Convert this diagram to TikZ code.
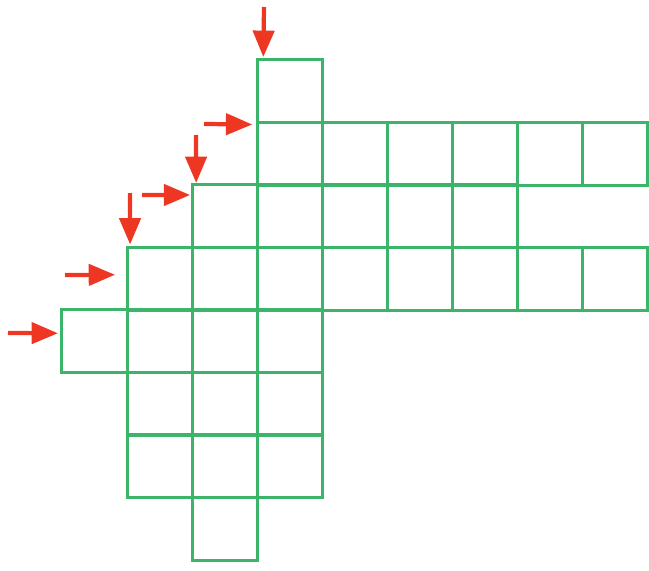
\documentclass[tikz,border=0pt]{standalone}
\usetikzlibrary{arrows.meta}
\definecolor{gridgreen}{RGB}{60,180,105}
\definecolor{arrowred}{RGB}{238,55,35}
\begin{document}
\begin{tikzpicture}
[x=0.01cm,y=-0.01cm,
 every node/.style={rectangle,draw=gridgreen,line width=0.85pt,minimum width=0.651cm,minimum height=0.625cm,inner sep=0pt,outer sep=0pt},
 redarrow/.style={draw=arrowred,line width=1.2pt,-{Triangle[length=7.5pt,width=6pt]}}]
\useasboundingbox (0,0) rectangle (649,570);
\def \w {65.1}
\def \h {62.5}
% row/first column/last column
\foreach \r/\a/\b in {0/3/3,1/3/8,2/2/6,3/1/8,4/0/3,5/1/3,6/1/3,7/2/2}
{
  \foreach \c in {\a,...,\b}
  {
    \node(c\c r\r) at ({62+\w*(\c+0.5)},{60+\h*(\r+0.5)}) {};
  }
}
\coordinate (a1) at (264,7);
\coordinate (a2) at (204,124);
\coordinate (a3) at (196,135);
\coordinate (a4) at (142,195);
\coordinate (a5) at (130,193);
\coordinate (a6) at (65,275);
\coordinate (a7) at (8,333);
\draw[redarrow] (a1) -- ([shift={(6,-3)}]c3r0.north west);
\draw[redarrow] (a2) -- ([shift={(-5,2)}]c3r1.north west);
\draw[redarrow] (a3) -- ([shift={(4,-2)}]c2r2.north west);
\draw[redarrow] (a4) -- ([shift={(-2,10)}]c2r2.north west);
\draw[redarrow] (a5) -- ([shift={(3,-3)}]c1r3.north west);
\draw[redarrow] (a6) -- ([shift={(-12,-4)}]c1r3.west);
\draw[redarrow] (a7) -- ([shift={(-4,-8)}]c0r4.west);
\end{tikzpicture}
\end{document}
